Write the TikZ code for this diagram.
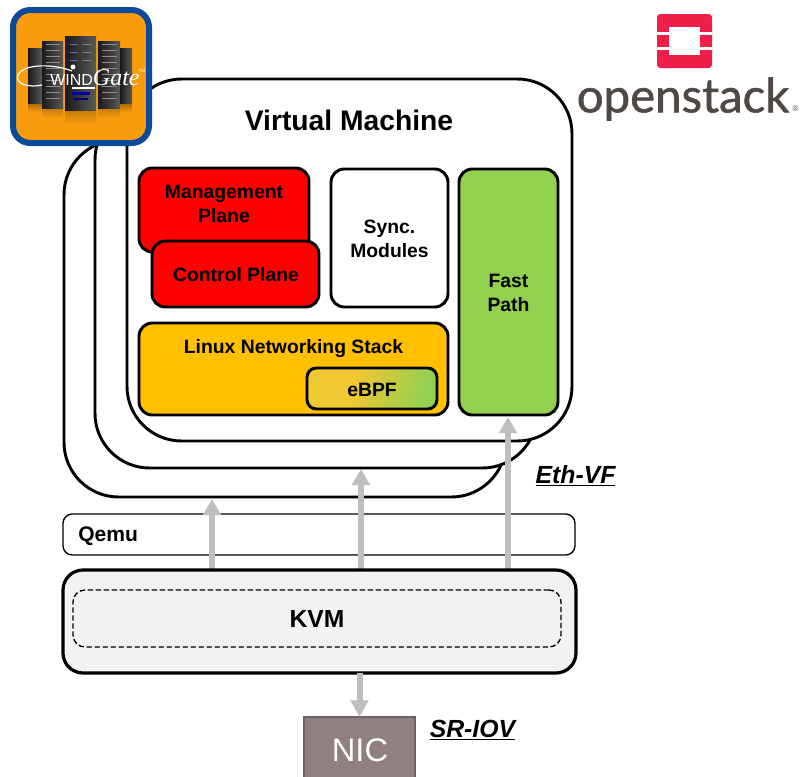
\documentclass[tikz,border=0pt]{standalone}
\usepackage{fontspec}
\setmainfont{Liberation Sans}
\newfontfamily\logofont[FakeBold=1.2]{Lato}
\newfontfamily\gatefont{Liberation Serif}
\usetikzlibrary{arrows.meta,shadings}
\definecolor{bluebd}{HTML}{0B4A9A}
\definecolor{orangef}{HTML}{F89C0E}
\definecolor{redosk}{HTML}{EF1F4A}
\definecolor{osgrey}{HTML}{4F4845}
\definecolor{stackor}{HTML}{FFC000}
\definecolor{fastg}{HTML}{92D050}
\definecolor{nicf}{HTML}{908080}
\definecolor{nicb}{HTML}{6E6064}
\definecolor{arrowg}{HTML}{BFBFBF}
\definecolor{kvmf}{HTML}{F2F2F2}
\definecolor{ebpfa}{HTML}{F0C832}
\pgfdeclarehorizontalshading{ebpfshade}{100bp}{color(0bp)=(ebpfa); color(42bp)=(ebpfa); color(74bp)=(fastg); color(100bp)=(fastg)}
\tikzset{
 x=0.75pt,y=-0.75pt,
 vmbox/.style={draw=black,line width=2.2pt,fill=white,rounded corners=41pt},
 block/.style={draw=black,line width=2.2pt,rounded corners=10pt,align=center,font=\bfseries\fontsize{14.5}{18}\selectfont,inner sep=0pt},
 grayarrow/.style={draw=arrowg,line width=4.5pt,-{Triangle[length=12pt,width=13pt]}},
 box/.style={inner sep=0pt,outer sep=0pt},
 blocktext/.style={font=\bfseries\fontsize{14.5}{18}\selectfont,align=center},
 rack/.style={left color=black!90,right color=black!65},
}
\newcommand{\rrect}[6][]{\node[#1,minimum width=(#4-#2)*0.75pt,minimum height=(#5-#3)*0.75pt] (#6) at ({(#2+#4)/2},{(#3+#5)/2})}
\begin{document}
\begin{tikzpicture}
\useasboundingbox (0,0) rectangle (801,776);
% stacked VMs
\rrect[box,vmbox]{64}{140}{506}{497}{vmc}{};
\rrect[box,vmbox]{95}{105}{537}{468}{vmb}{};
\rrect[box,vmbox]{127}{79}{572}{441}{vma}{};
\node[font=\bfseries\fontsize{21.2}{25}\selectfont] (vmt) at (349,120) {Virtual Machine};
% Blocks
\rrect[block,fill=red]{139}{168}{309}{252}{mp}{};
\node[blocktext] (mpt) at (224,204) {Management\\Plane};
\rrect[block,fill=red]{152}{241}{319}{307}{cp}{};
\node[blocktext] (cpt) at (236,274.5) {Control Plane};
\rrect[block,fill=white]{331}{169}{448}{307}{sync}{};
\node[blocktext] (synct) at (389.5,239) {Sync.\\Modules};
\rrect[block,fill=fastg]{459}{169}{558}{415}{fast}{};
\node[blocktext] (fastt) at (508.5,293) {Fast\\Path};
\rrect[block,fill=stackor]{139}{323}{448}{415}{lin}{};
\node[blocktext] (lint) at (293.5,348.5) {Linux Networking Stack};
\rrect[block,shading=ebpfshade,shading angle=-15,rounded corners=7pt]{307}{368}{437}{409}{ebpf}{};
\node[blocktext] (ebpft) at (372,390) {eBPF};
% Qemu
\rrect[box,draw=black,line width=1pt,fill=white,rounded corners=7pt]{63}{514}{575}{555}{qemu}{};
\node[font=\bfseries\fontsize{15.8}{18}\selectfont,anchor=west,inner sep=0pt] (qt) at (78,536.5) {Qemu};
% Arrows
\coordinate (a1s) at (212,570); \coordinate (a1e) at (212,499);
\coordinate (a2s) at (361,570); \coordinate (a2e) at (361,469);
\coordinate (a3s) at (508,570); \coordinate (a3e) at (508,417);
\draw[grayarrow] (a1s) -- (a1e);
\draw[grayarrow] (a2s) -- (a2e);
\draw[grayarrow] (a3s) -- (a3e);
% KVM
\rrect[box,draw=black,line width=2.4pt,fill=kvmf,rounded corners=15pt]{63}{570}{576}{673}{kvm}{};
\rrect[box,draw=black,line width=1pt,dash pattern=on 4pt off 2pt,rounded corners=9pt]{73}{590}{561}{647}{kvmin}{};
\node[font=\bfseries\fontsize{18.5}{22}\selectfont] (kvmt) at (317,619) {KVM};
% NIC
\rrect[box,draw=nicb,line width=2pt,fill=nicf]{304}{717}{415}{790}{nic}{};
\node[font=\fontsize{24.5}{30}\selectfont,text=white] (nict) at (360,750) {NIC};
\draw[draw=arrowg,line width=4.5pt,-{Triangle[length=12.5pt,width=13pt]}] (kvm.south -| nic.north) -- (nic.north);
% labels
\node[font=\bfseries\itshape\fontsize{18.6}{22}\selectfont] (eth) at (575.5,476) {\underline{Eth-VF}};
\node[font=\bfseries\itshape\fontsize{18.6}{22}\selectfont] (sr) at (472.5,730) {\underline{SR-IOV}};
% WindGate logo
\rrect[box,draw=bluebd,line width=4.5pt,fill=orangef,rounded corners=13pt]{13}{10}{149}{143}{wg}{};
% reflection
\foreach \xa/\xb/\yb in {28/42/112,42/63/118,65/96/124,98/120/118,120/132/112}{
  \shade[top color=orangef!70!black,bottom color=orangef] (\xa,104) rectangle (\xb,\yb);
}
\foreach \xa/\xb/\ya/\yb in {28/42/48/103,42/63/41/108,98/120/41/108,120/132/48/103,65/96/36/110}{
  \fill[rack] (\xa,\ya) rectangle (\xb,\yb);
}
\foreach \yy in {44,50,56,62,68,74,80,86,92,98}{
  \draw[black!45,line width=0.3pt] (46,\yy) -- (60,\yy);
  \draw[black!45,line width=0.3pt] (102,\yy) -- (117,\yy);
}
\foreach \yy in {44,52,60}{
  \draw[black!35!blue!60!white,line width=0.6pt] (70,\yy) -- (78,\yy);
  \draw[black!50,line width=0.6pt] (82,\yy) -- (92,\yy);
}
\fill[white] (73,67) circle (2.5);
\fill[blue!70!black] (72,92) rectangle (90,95);
\fill[blue!50!black] (74,98) rectangle (88,100);
\draw[white,line width=0.9pt] (72,71) .. controls (55,64) and (24,63) .. (18,75) .. controls (14,84) and (30,88) .. (42,85);
\draw[white,line width=0.8pt] (72,88) -- (95,88);
\node[text=white,inner sep=0pt,anchor=base west] (wgt) at (50,85) {\fontsize{12}{14}\selectfont WIND{\gatefont\itshape\fontsize{18}{20}\selectfont Gate}};
\node[text=white,inner sep=0pt,font=\fontsize{3.5}{4}\selectfont] (wgtm) at (142,71) {TM};
% OpenStack logo
\fill[redosk,rounded corners=2.5pt] (657,14) rectangle (712,68);
\fill[white] (669,27) rectangle (700,55);
\fill[white] (657,32) rectangle (712,35);
\fill[white] (657,46.5) rectangle (712,49.5);
\node[font=\logofont\fontsize{35.5}{42}\selectfont,text=osgrey,inner sep=0pt] (ost) at (683,99) {openstack};
\node[font=\fontsize{6}{7}\selectfont,text=osgrey,inner sep=0pt] (reg) at (795.5,109) {®};
\end{tikzpicture}
\end{document}
